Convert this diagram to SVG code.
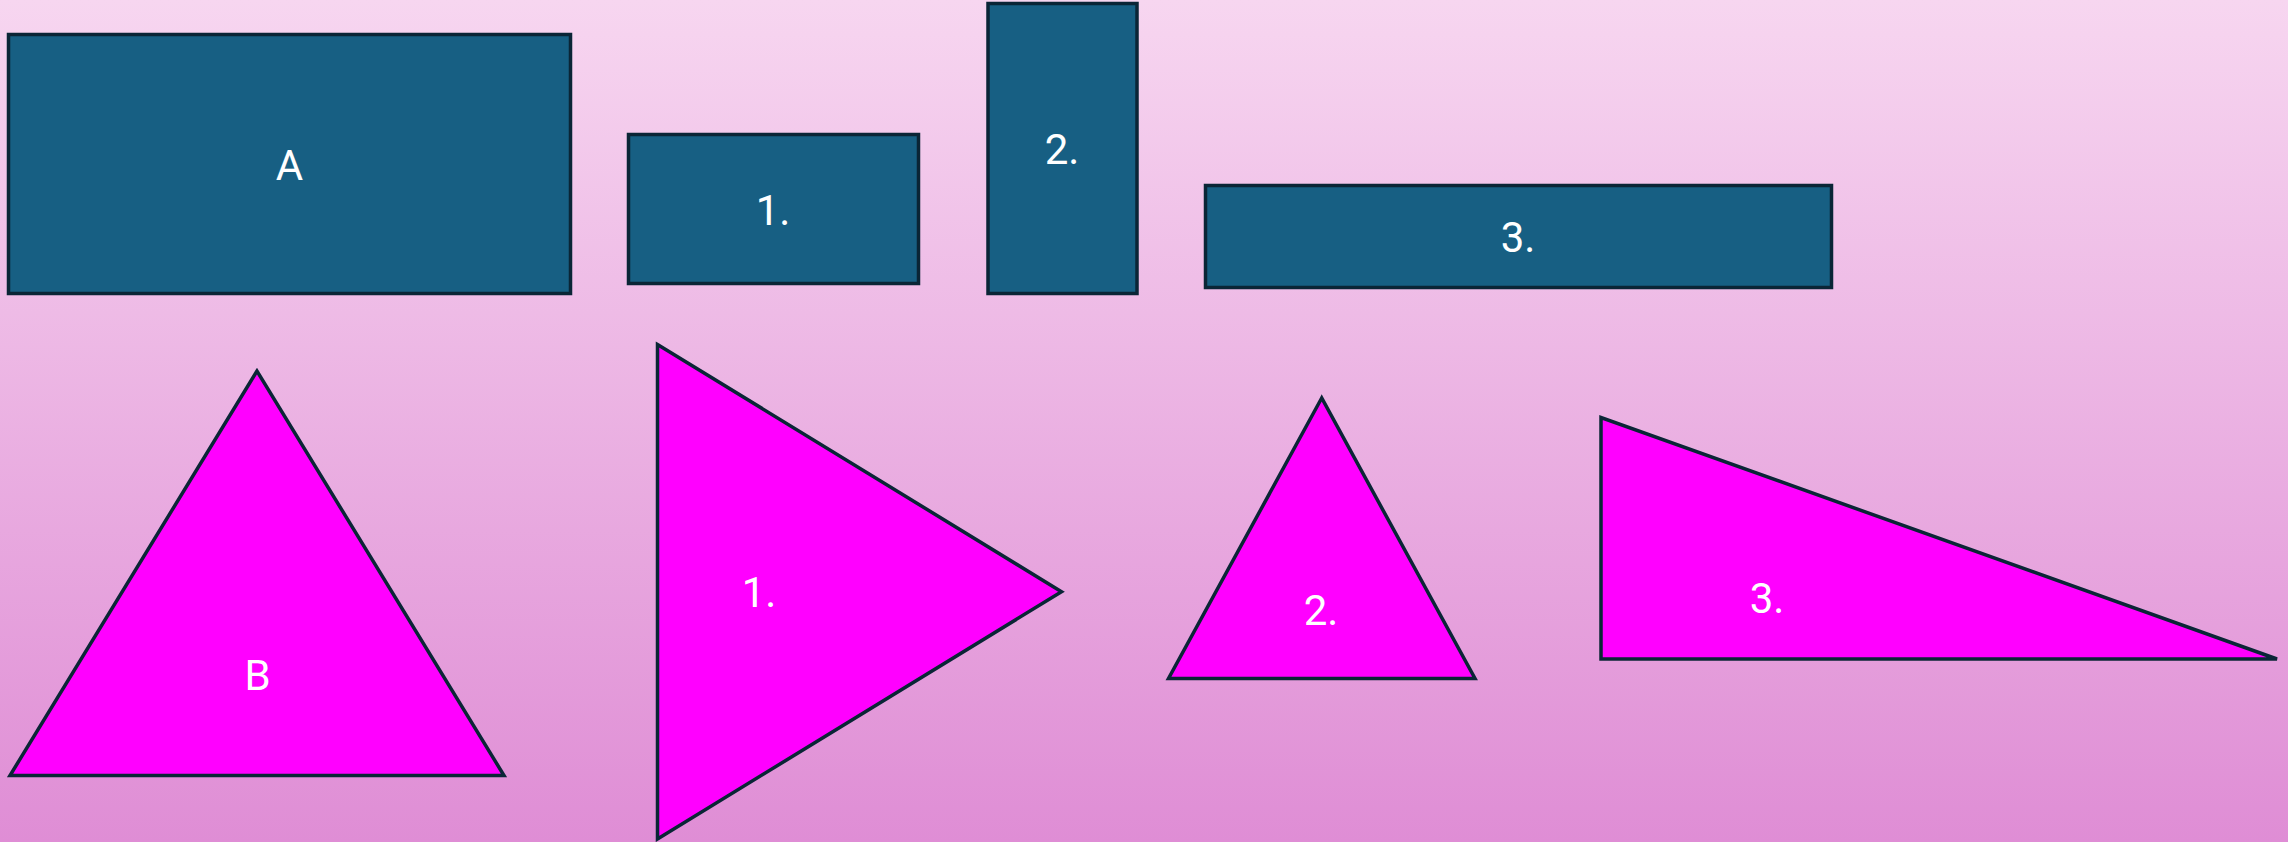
<svg xmlns="http://www.w3.org/2000/svg" width="2288" height="842" viewBox="0 0 2288 842">
  <defs>
    <linearGradient id="bg" x1="0" y1="0" x2="0" y2="1">
      <stop offset="0" stop-color="#f7d6f0"/>
      <stop offset="1" stop-color="#df8dd5"/>
    </linearGradient>
  </defs>
  <style>
    .box { fill: #175f83; stroke: #0a2536; stroke-width: 3.5; }
    .tri { fill: #ff00ff; stroke: #0a2536; stroke-width: 3.5; }
    .lbl { fill: #ffffff; font-family: Roboto, "Liberation Sans", sans-serif; font-size: 42px; text-anchor: middle; }
  </style>
  <rect x="0" y="0" width="2288" height="842" fill="url(#bg)"/>
  <g id="connectors"></g>
  <g id="node-A">
    <rect class="box" x="8.5" y="34.5" width="562" height="259"/>
    <text class="lbl" x="289.5" y="180">A</text>
  </g>
  <g id="node-rect-1">
    <rect class="box" x="628.5" y="134.5" width="290" height="149"/>
    <text class="lbl" x="773" y="225">1.</text>
  </g>
  <g id="node-rect-2">
    <rect class="box" x="988" y="3.5" width="149" height="290"/>
    <text class="lbl" x="1062" y="164">2.</text>
  </g>
  <g id="node-rect-3">
    <rect class="box" x="1205.5" y="185.5" width="626" height="102"/>
    <text class="lbl" x="1518" y="252">3.</text>
  </g>
  <g id="node-B">
    <polygon class="tri" points="257,371 10,775.5 504,775.5"/>
    <text class="lbl" x="257.5" y="690">B</text>
  </g>
  <g id="node-tri-1">
    <polygon class="tri" points="657.5,344.5 1061.5,591.7 657.5,839"/>
    <text class="lbl" x="759" y="607">1.</text>
  </g>
  <g id="node-tri-2">
    <polygon class="tri" points="1321.7,398 1168.5,678.5 1475,678.5"/>
    <text class="lbl" x="1321" y="625">2.</text>
  </g>
  <g id="node-tri-3">
    <polygon class="tri" points="1601,417.5 1601,659 2277,659"/>
    <text class="lbl" x="1767" y="613">3.</text>
  </g>
</svg>
